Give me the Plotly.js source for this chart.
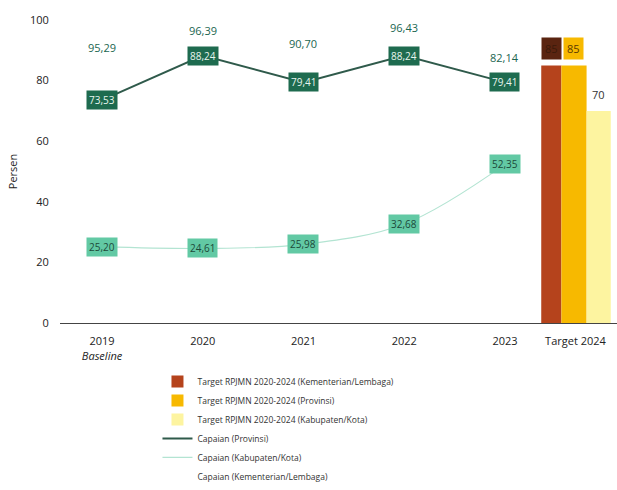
<!DOCTYPE html>
<html><head><meta charset="utf-8">
<script src="https://cdn.plot.ly/plotly-3.0.1.min.js"></script>
<style>html,body{margin:0;padding:0;background:#fff}#c{width:617px;height:490px}</style>
</head><body><div id="c"></div>
<script>
// Data
var years = [0, 1, 2, 3, 4];
var targetPos = 4.7;
var tickLabels = ['2019<br><i>Baseline</i>', '2020', '2021', '2022', '2023', 'Target 2024'];
var capaianKL = [95.29, 96.39, 90.70, 96.43, 82.14];
var capaianProv = [73.53, 88.24, 79.41, 88.24, 79.41];
var capaianKab = [25.20, 24.61, 25.98, 32.68, 52.35];
var targetKL = 85;
var targetProv = 85;
var targetKab = 70;
var names = {
  tKL: 'Target RPJMN 2020-2024 (Kementerian/Lembaga)',
  tProv: 'Target RPJMN 2020-2024 (Provinsi)',
  tKab: 'Target RPJMN 2020-2024 (Kabupaten/Kota)',
  cProv: 'Capaian (Provinsi)',
  cKab: 'Capaian (Kabupaten/Kota)',
  cKL: 'Capaian (Kementerian/Lembaga)'
};
// styles
var klShift = [-13, 0, 5, 3, 17];
var fmt = function(v){ return v.toFixed(2).replace('.', ','); };
var FONT = 'Open Sans, Lato, sans-serif';

var traces = [
  {type:'bar', x:[targetPos], y:[targetKL], name:names.tKL, marker:{color:'#b5431c'}, width:0.2, offset:-0.34, hoverinfo:'none'},
  {type:'bar', x:[targetPos], y:[targetProv], name:names.tProv, marker:{color:'#f7b900'}, width:0.25, offset:-0.14, hoverinfo:'none'},
  {type:'bar', x:[targetPos], y:[targetKab], name:names.tKab, marker:{color:'#fdf4a0'}, width:0.24, offset:0.11, hoverinfo:'none'},
  {type:'scatter', mode:'lines', x:years, y:capaianProv, name:names.cProv, line:{color:'#2f5a4b', width:2}},
  {type:'scatter', mode:'lines', x:years, y:capaianKab, name:names.cKab, line:{color:'#b3e4d2', width:1.2, shape:'spline'}},
  {type:'scatter', mode:'lines', x:years, y:capaianKL, name:names.cKL, line:{color:'rgba(255,255,255,0)', width:1.5}}
];

var ann = [];
years.forEach(function(x, i){
  ann.push({x:x, y:capaianProv[i], text:fmt(capaianProv[i]), showarrow:false, bgcolor:'#1e6b4f',
    font:{family:FONT, size:10, color:'#e8f5ee'}, borderpad:2});
  ann.push({x:x, y:capaianKab[i], text:fmt(capaianKab[i]), showarrow:false, bgcolor:'#62c9a4',
    font:{family:FONT, size:10, color:'#1d4a3a'}, borderpad:2});
  ann.push({x:x, y:capaianKL[i], text:fmt(capaianKL[i]), showarrow:false, yshift:klShift[i],
    font:{family:FONT, size:11, color:'#1b6650'}});
});
ann.push({x:targetPos-0.24, y:targetKL, text:String(targetKL), showarrow:false, yshift:17, bgcolor:'#5a2410',
  font:{family:FONT, size:11, color:'#3a1a0a'}, borderpad:3});
ann.push({x:targetPos-0.015, y:targetProv, text:String(targetProv), showarrow:false, yshift:17, bgcolor:'#f7b900',
  font:{family:FONT, size:11, color:'#5a3a00'}, borderpad:3});
ann.push({x:targetPos+0.23, y:targetKab, text:String(targetKab), showarrow:false, yshift:16,
  font:{family:FONT, size:11, color:'#333'}});

var layout = {
  width:617, height:490,
  margin:{l:60, r:0, t:20, b:167, autoexpand:false},
  paper_bgcolor:'#fff', plot_bgcolor:'#fff',
  font:{family:FONT, size:11, color:'#222'},
  showlegend:true,
  barmode:'overlay',
  xaxis:{range:[-0.417, 5.112], tickmode:'array', tickvals:years.concat([targetPos]), ticktext:tickLabels,
    showgrid:false, zeroline:false, showline:true, linecolor:'#444', linewidth:1,
    ticks:'outside', ticklen:8, tickcolor:'rgba(0,0,0,0)', tickfont:{size:11, color:'#222'}},
  yaxis:{range:[0, 100], tickvals:[0,20,40,60,80,100], showgrid:false, zeroline:false, showline:false,
    ticks:'outside', ticklen:8, tickcolor:'rgba(0,0,0,0)',
    title:{text:'Persen', font:{size:11, color:'#222'}, standoff:10}, tickfont:{size:11, color:'#222'}},
  legend:{x:0.175, y:-0.145, xanchor:'left', yanchor:'top', orientation:'v', font:{size:8.5, color:'#333'},
    itemwidth:30, tracegroupgap:0, bgcolor:'rgba(0,0,0,0)'},
  annotations:ann
};
Plotly.newPlot('c', traces, layout, {displayModeBar:false, staticPlot:true});
</script></body></html>
